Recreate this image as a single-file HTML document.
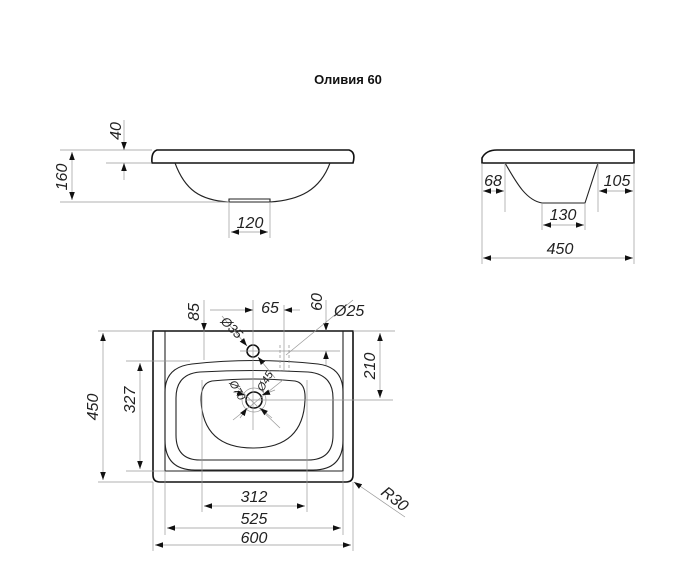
<!DOCTYPE html>
<html><head><meta charset="utf-8"><style>
html,body{margin:0;padding:0;background:#fff;}
svg{display:block}
.t{font-family:"Liberation Sans",sans-serif;font-style:italic;font-size:16px;fill:#222}
.d{stroke:#999;stroke-width:0.7;fill:none}
.o{stroke:#111;stroke-width:1.6;fill:none}
.o2{stroke:#222;stroke-width:1.1;fill:none}
</style></head><body>
<svg width="687" height="565" viewBox="0 0 687 565" xmlns="http://www.w3.org/2000/svg">
<defs>
<marker id="a" viewBox="0 0 10 10" refX="10" refY="5" markerWidth="8" markerHeight="8" orient="auto-start-reverse" markerUnits="userSpaceOnUse"><path d="M0,1.5 L10,5 L0,8.5 z" fill="#111"/></marker>
</defs>
<text x="348" y="84" text-anchor="middle" style="font-family:'Liberation Sans',sans-serif;font-weight:bold;font-size:13px;fill:#111">Оливия 60</text>

<!-- side view left -->
<path class="o" d="M157,150 L349,150 Q356,152 353,163 L152,163 Q151,152 157,150 Z"/>
<path class="o2" d="M175,163 C185,190 200,200 228,202 L270,202 C300,200 320,190 330,163"/>
<path class="o2" d="M229,202 L229,199 L270,199 L270,202"/>
<line class="d" x1="60" y1="150" x2="152" y2="150"/>
<line class="d" x1="60" y1="202" x2="229" y2="202"/>
<line class="d" x1="106" y1="163" x2="152" y2="163"/>
<line class="d" x1="72" y1="152" x2="72" y2="200" marker-start="url(#a)" marker-end="url(#a)"/>
<text class="t" transform="translate(67,177) rotate(-90)" text-anchor="middle">160</text>
<line class="d" x1="124" y1="120" x2="124" y2="150" marker-end="url(#a)"/>
<line class="d" x1="124" y1="180" x2="124" y2="163" marker-end="url(#a)"/>
<text class="t" transform="translate(121,131) rotate(-90)" text-anchor="middle">40</text>
<line class="d" x1="229" y1="202" x2="229" y2="238"/>
<line class="d" x1="270" y1="202" x2="270" y2="238"/>
<line class="d" x1="231" y1="232" x2="268" y2="232" marker-start="url(#a)" marker-end="url(#a)"/>
<text class="t" x="250" y="228" text-anchor="middle">120</text>

<!-- side view right -->
<path class="o" d="M482,163 L482,158 Q486,150 497,150 L634,150 L634,163 Z"/>
<path class="o2" d="M505,163 C515,180 525,200 542,203 L585,203 L598,163"/>
<line class="d" x1="482" y1="163" x2="482" y2="264"/>
<line class="d" x1="634" y1="163" x2="634" y2="264"/>
<line class="d" x1="505" y1="163" x2="505" y2="212"/>
<line class="d" x1="598" y1="163" x2="598" y2="212"/>
<line class="d" x1="542" y1="203" x2="542" y2="230"/>
<line class="d" x1="585" y1="203" x2="585" y2="230"/>
<line class="d" x1="483" y1="191" x2="504" y2="191" marker-start="url(#a)" marker-end="url(#a)"/>
<text class="t" x="493" y="186" text-anchor="middle">68</text>
<line class="d" x1="599" y1="191" x2="633" y2="191" marker-start="url(#a)" marker-end="url(#a)"/>
<text class="t" x="617" y="186" text-anchor="middle">105</text>
<line class="d" x1="543" y1="225" x2="584" y2="225" marker-start="url(#a)" marker-end="url(#a)"/>
<text class="t" x="563" y="220" text-anchor="middle">130</text>
<line class="d" x1="483" y1="258" x2="633" y2="258" marker-start="url(#a)" marker-end="url(#a)"/>
<text class="t" x="560" y="254" text-anchor="middle">450</text>

<!-- top view -->
<path class="o" d="M153,331 L353,331 L353,475 Q353,482 346,482 L160,482 Q153,482 153,475 Z"/>
<path class="o2" d="M165,331 L165,471 L343,471 L343,331"/>
<path class="o2" d="M192,364 Q253,357 318,364 Q343,367 343,392 L343,440 Q343,470 313,470 L195,470 Q165,470 165,440 L165,392 Q165,367 192,364 Z"/>
<path class="o2" d="M200,372 Q253,369 308,372 Q333,374 333,398 L333,435 Q333,460 308,460 L200,460 Q176,460 176,435 L176,398 Q176,374 200,372 Z"/>
<path class="o2" d="M212,381 Q253,377 295,381 Q306,383 305,400 Q303,448 253,448 Q203,448 201,400 Q201,383 212,381 Z"/>
<circle class="o" cx="254" cy="400" r="8"/>
<circle cx="254" cy="400" r="12" class="d"/>
<circle class="o" cx="253" cy="351" r="6"/>
<path d="M280,345 L280,371 M289,345 L289,371" stroke="#999" stroke-width="0.8" stroke-dasharray="3,2" fill="none"/>
<!-- center lines -->
<line class="d" x1="253" y1="300" x2="253" y2="430"/>
<line class="d" x1="240" y1="351" x2="340" y2="351"/>
<line class="d" x1="284" y1="305" x2="284" y2="372"/>
<line class="d" x1="245" y1="400" x2="393" y2="400"/>
<line class="d" x1="233" y1="420" x2="283" y2="380"/>
<line class="d" x1="235" y1="385" x2="280" y2="428"/>
<!-- 450 -->
<line class="d" x1="98" y1="331" x2="153" y2="331"/>
<line class="d" x1="98" y1="482" x2="153" y2="482"/>
<line class="d" x1="103" y1="333" x2="103" y2="480" marker-start="url(#a)" marker-end="url(#a)"/>
<text class="t" transform="translate(98,407) rotate(-90)" text-anchor="middle">450</text>
<!-- 327 -->
<line class="d" x1="126" y1="361" x2="190" y2="361"/>
<line class="d" x1="126" y1="471" x2="165" y2="471"/>
<line class="d" x1="140" y1="363" x2="140" y2="469" marker-start="url(#a)" marker-end="url(#a)"/>
<text class="t" transform="translate(135,400) rotate(-90)" text-anchor="middle">327</text>
<!-- 210 -->
<line class="d" x1="353" y1="331" x2="395" y2="331"/>
<line class="d" x1="380" y1="333" x2="380" y2="398" marker-start="url(#a)" marker-end="url(#a)"/>
<text class="t" transform="translate(375,366) rotate(-90)" text-anchor="middle">210</text>
<!-- 85 -->
<line class="d" x1="204" y1="300" x2="204" y2="360"/>
<line class="d" x1="204" y1="320" x2="204" y2="331" marker-end="url(#a)"/>
<text class="t" transform="translate(199,312) rotate(-90)" text-anchor="middle">85</text>
<!-- 65 -->
<line class="d" x1="210" y1="310" x2="253" y2="310" marker-end="url(#a)"/>
<line class="d" x1="300" y1="310" x2="284" y2="310" marker-end="url(#a)"/>
<text class="t" x="270" y="313" text-anchor="middle">65</text>
<!-- 60 -->
<line class="d" x1="326" y1="300" x2="326" y2="331" marker-end="url(#a)"/>
<line class="d" x1="326" y1="365" x2="326" y2="351" marker-end="url(#a)"/>
<text class="t" transform="translate(322,302) rotate(-90)" text-anchor="middle">60</text>
<!-- Ø25 -->
<line class="d" x1="353" y1="300" x2="286" y2="355"/>
<text class="t" x="334" y="316">Ø25</text>
<!-- Ø35 -->
<line class="d" x1="222" y1="316" x2="247" y2="346" marker-end="url(#a)"/>
<line class="d" x1="275" y1="378" x2="258" y2="357" marker-end="url(#a)"/>
<text class="t" transform="translate(220,322) rotate(45)" style="font-size:13px">Ø35</text>
<!-- Ø70 / Ø45 -->
<text class="t" transform="translate(229,383) rotate(60)" style="font-size:11px">Ø70</text>
<text class="t" transform="translate(263,392) rotate(-60)" style="font-size:11px">Ø45</text>
<line class="d" x1="233" y1="392" x2="245" y2="395" marker-end="url(#a)"/>
<line class="d" x1="275" y1="390" x2="262" y2="395" marker-end="url(#a)"/>
<line class="d" x1="240" y1="418" x2="247" y2="408" marker-end="url(#a)"/>
<line class="d" x1="272" y1="418" x2="260" y2="408" marker-end="url(#a)"/>
<!-- bottom dims -->
<line class="d" x1="202" y1="380" x2="202" y2="512"/>
<line class="d" x1="307" y1="380" x2="307" y2="512"/>
<line class="d" x1="165" y1="471" x2="165" y2="535"/>
<line class="d" x1="343" y1="471" x2="343" y2="535"/>
<line class="d" x1="153" y1="482" x2="153" y2="551"/>
<line class="d" x1="353" y1="482" x2="353" y2="551"/>
<line class="d" x1="204" y1="506" x2="305" y2="506" marker-start="url(#a)" marker-end="url(#a)"/>
<text class="t" x="254" y="502" text-anchor="middle">312</text>
<line class="d" x1="167" y1="528" x2="341" y2="528" marker-start="url(#a)" marker-end="url(#a)"/>
<text class="t" x="254" y="524" text-anchor="middle">525</text>
<line class="d" x1="155" y1="545" x2="351" y2="545" marker-start="url(#a)" marker-end="url(#a)"/>
<text class="t" x="254" y="543" text-anchor="middle">600</text>
<!-- R30 -->
<line class="d" x1="405" y1="517" x2="354" y2="482" marker-end="url(#a)"/>
<text class="t" transform="translate(380,494) rotate(38)">R30</text>
</svg>
</body></html>
